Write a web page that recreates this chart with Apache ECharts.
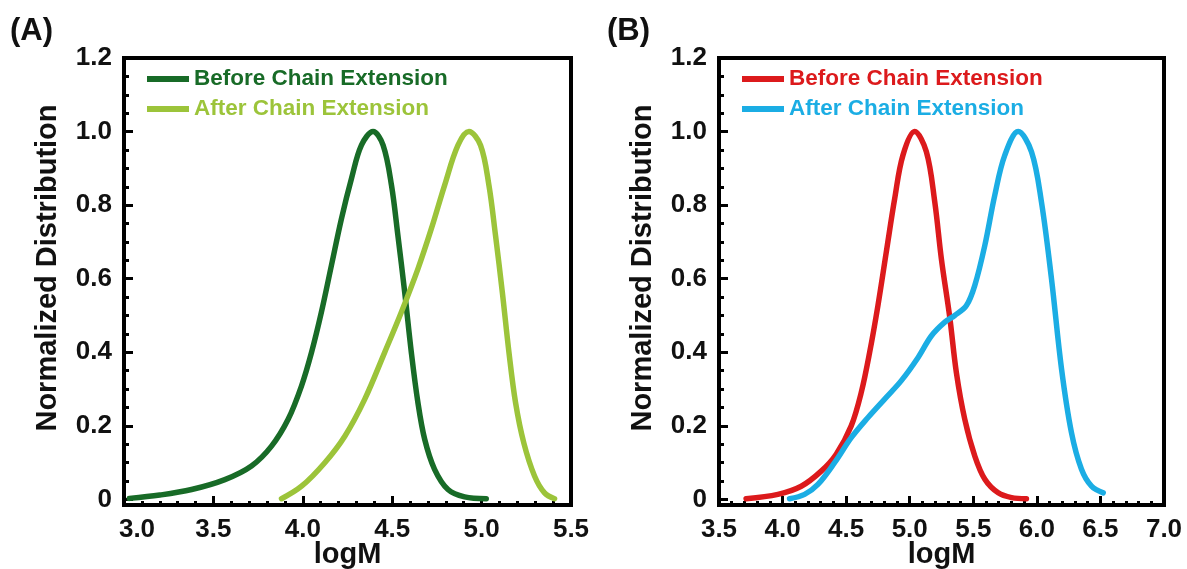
<!DOCTYPE html>
<html><head><meta charset="utf-8">
<script src="https://cdn.jsdelivr.net/npm/echarts@6/dist/echarts.min.js"></script>
<style>html,body{margin:0;padding:0;background:#fff}#c{width:1187px;height:569px}</style>
</head><body><div id="c"></div>
<script>
// ---- Panel A data ----
const aBeforeX = [3.03, 3.20, 3.378, 3.564, 3.713, 3.825, 3.918, 3.993, 4.049, 4.104, 4.16, 4.216, 4.272, 4.328, 4.393, 4.449, 4.496, 4.532, 4.57, 4.607, 4.644, 4.682, 4.737, 4.812, 4.905, 5.026];
const aBeforeY = [0.003, 0.012, 0.027, 0.054, 0.091, 0.145, 0.218, 0.309, 0.40, 0.509, 0.636, 0.763, 0.872, 0.963, 1.0, 0.963, 0.854, 0.717, 0.563, 0.40, 0.263, 0.163, 0.082, 0.027, 0.007, 0.002];
const aAfterX = [3.881, 3.993, 4.123, 4.235, 4.346, 4.458, 4.551, 4.644, 4.719, 4.793, 4.868, 4.929, 4.994, 5.041, 5.078, 5.116, 5.153, 5.19, 5.236, 5.296, 5.352, 5.408];
const aAfterY = [0.002, 0.036, 0.10, 0.172, 0.272, 0.40, 0.509, 0.627, 0.736, 0.854, 0.963, 1.0, 0.963, 0.854, 0.717, 0.563, 0.40, 0.263, 0.154, 0.064, 0.018, 0.002];
// ---- Panel B data ----
const bBeforeX = [3.713, 3.963, 4.147, 4.304, 4.422, 4.54, 4.619, 4.685, 4.75, 4.816, 4.882, 4.947, 5.039, 5.131, 5.197, 5.249, 5.315, 5.367, 5.433, 5.512, 5.591, 5.696, 5.801, 5.918];
const bBeforeY = [0.002, 0.014, 0.036, 0.077, 0.123, 0.20, 0.291, 0.40, 0.527, 0.673, 0.818, 0.936, 1.0, 0.945, 0.809, 0.654, 0.495, 0.345, 0.218, 0.118, 0.055, 0.018, 0.005, 0.002];
const bAfterX = [4.055, 4.173, 4.278, 4.409, 4.54, 4.672, 4.803, 4.934, 5.066, 5.171, 5.276, 5.354, 5.446, 5.512, 5.591, 5.669, 5.748, 5.853, 5.958, 6.036, 6.115, 6.194, 6.272, 6.351, 6.43, 6.522];
const bAfterY = [0.002, 0.014, 0.041, 0.10, 0.168, 0.223, 0.273, 0.323, 0.386, 0.445, 0.482, 0.50, 0.527, 0.582, 0.691, 0.827, 0.936, 1.0, 0.945, 0.809, 0.60, 0.355, 0.182, 0.082, 0.036, 0.018];
// ---- Axes / labels ----
const yMajorTicks = [0, 0.2, 0.4, 0.6, 0.8, 1.0, 1.2];
const yMinorTicks = [0, 0.05, 0.1, 0.15, 0.2, 0.25, 0.3, 0.35, 0.4, 0.45, 0.5, 0.55, 0.6, 0.65, 0.7, 0.75, 0.8, 0.85, 0.9, 0.95, 1.0, 1.05, 1.1, 1.15, 1.2];
const xRangeA = [3.0, 5.5];
const xRangeB = [3.5, 7.0];
const legendNames = {
  aB: 'Before Chain Extension', aA: 'After Chain Extension',
  bB: 'Before Chain Extension', bA: 'After Chain Extension'
};
const panelLabels = ['(A)', '(B)'];
const xName = 'logM';
const yName = 'Normalized Distribution';
const colors = { aB: '#186b27', aA: '#9cc43a', bB: '#dc1a1c', bA: '#1badE4' };

const FONT = '"Liberation Sans", Arial, sans-serif';
const TICK_FS = 26;
const NAME_FS = 29;
const zip = (xs, ys) => xs.map((x, i) => [x, ys[i]]);

const grids = [
  { left: 124, top: 58, width: 447, height: 447 },
  { left: 719, top: 58, width: 445, height: 447 }
];

function xAxisFor(gi, range, shiftFirst) {
  return {
    gridIndex: gi, type: 'value', min: range[0], max: range[1], interval: 0.5,
    axisLine: { show: true, onZero: false, lineStyle: { color: '#000', width: 4 } },
    axisTick: { show: true, inside: true, length: 9, lineStyle: { color: '#000', width: 3 } },
    minorTick: { show: true, splitNumber: 5, length: 4, lineStyle: { color: '#000', width: 3 } },
    splitLine: { show: false }, minorSplitLine: { show: false },
    axisLabel: {
      color: '#111', fontSize: TICK_FS, fontWeight: 'bold', fontFamily: FONT, margin: 12,
      formatter: v => (shiftFirst && Math.abs(v - range[0]) < 1e-9) ? '{s|' + v.toFixed(1) + '}' : v.toFixed(1),
      rich: { s: { color: '#111', fontSize: TICK_FS, fontWeight: 'bold', fontFamily: FONT, padding: [0, 0, 0, 26] } }
    },
    name: xName, nameLocation: 'middle', nameGap: 35, nameMoveOverlap: false,
    nameTextStyle: { color: '#111', fontSize: NAME_FS, fontWeight: 'bold', fontFamily: FONT }
  };
}
function yAxesFor(gi) {
  return [{
    gridIndex: gi, type: 'value', min: -0.015, max: 1.2,
    axisLine: { show: true, lineStyle: { color: '#000', width: 4 } },
    axisTick: { show: true, inside: true, length: 9, customValues: yMajorTicks, lineStyle: { color: '#000', width: 3 } },
    splitLine: { show: false },
    axisLabel: {
      customValues: yMajorTicks, color: '#111', fontSize: TICK_FS, fontWeight: 'bold', fontFamily: FONT, margin: 12,
      formatter: v => v === 0 ? '0' : v.toFixed(1)
    },
    name: yName, nameLocation: 'middle', nameGap: 62, nameMoveOverlap: false,
    nameTextStyle: { color: '#111', fontSize: NAME_FS, fontWeight: 'bold', fontFamily: FONT, padding: [0, 0, 0, 27] }
  }, {
    gridIndex: gi, type: 'value', min: -0.015, max: 1.2, position: 'left',
    axisLine: { show: false },
    axisTick: { show: true, inside: true, length: 5, customValues: yMinorTicks, lineStyle: { color: '#000', width: 3 } },
    splitLine: { show: false },
    axisLabel: { show: false }
  }];
}

function lineSeries(key, xi, yi, xs, ys, z) {
  return {
    name: key, type: 'line', xAxisIndex: xi, yAxisIndex: yi, data: zip(xs, ys),
    smooth: 0.35, showSymbol: false, symbol: 'none', z: z,
    lineStyle: { width: 5.5, color: colors[key], cap: 'round', join: 'round' },
    itemStyle: { color: colors[key] }
  };
}

function legendFor(left, keys) {
  return {
    left: left, top: 67, orient: 'vertical', padding: 0, itemGap: 6,
    icon: 'rect', itemWidth: 42, itemHeight: 6,
    selectedMode: false,
    formatter: n => legendNames[n],
    textStyle: { fontSize: 22.5, fontWeight: 'bold', fontFamily: FONT, lineHeight: 24 },
    data: keys.map(k => ({ name: k, textStyle: { color: colors[k] } }))
  };
}

const chart = echarts.init(document.getElementById('c'), null, { renderer: 'canvas' });
chart.setOption({
  animation: false,
  backgroundColor: '#fff',
  grid: grids.map(g => Object.assign({ show: true, borderColor: '#000', borderWidth: 4, backgroundColor: 'transparent', containLabel: false, outerBoundsMode: 'none' }, g)),
  xAxis: [xAxisFor(0, xRangeA, true), xAxisFor(1, xRangeB, false)],
  yAxis: [...yAxesFor(0), ...yAxesFor(1)],
  legend: [legendFor(147, ['aB', 'aA']), legendFor(742, ['bB', 'bA'])],
  series: [
    lineSeries('aB', 0, 0, aBeforeX, aBeforeY, 2),
    lineSeries('aA', 0, 0, aAfterX, aAfterY, 3),
    lineSeries('bB', 1, 2, bBeforeX, bBeforeY, 2),
    lineSeries('bA', 1, 2, bAfterX, bAfterY, 3)
  ],
  graphic: [
    { type: 'text', left: 10, top: 16, style: { text: panelLabels[0], fontSize: 31, fontWeight: 'bold', fontFamily: FONT, fill: '#111' } },
    { type: 'text', left: 607, top: 16, style: { text: panelLabels[1], fontSize: 31, fontWeight: 'bold', fontFamily: FONT, fill: '#111' } }
  ]
});
</script></body></html>
